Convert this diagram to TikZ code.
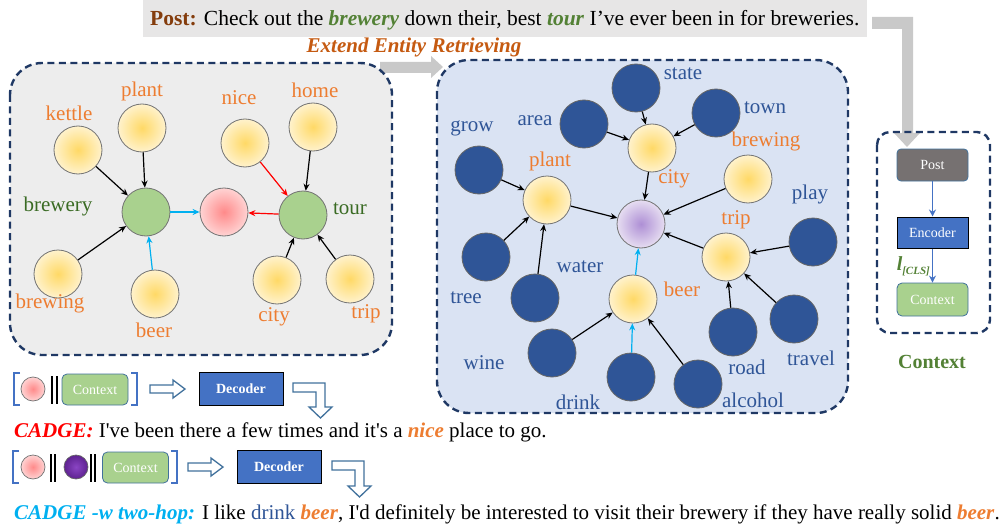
\documentclass[tikz,border=0pt]{standalone}
\usepackage{fontspec}
\setmainfont{Liberation Serif}[Ligatures=TeXOff]
\usetikzlibrary{arrows.meta}
\definecolor{navy}{HTML}{1F3864}
\definecolor{lgray}{HTML}{EDEDED}
\definecolor{lblue}{HTML}{DAE3F3}
\definecolor{arrgray}{HTML}{C9C9C9}
\definecolor{orng}{HTML}{ED7D31}
\definecolor{dorng}{HTML}{C55A11}
\definecolor{dblue}{HTML}{2F5597}
\definecolor{mblue}{HTML}{4472C4}
\definecolor{hblue}{HTML}{41719C}
\definecolor{dgreen}{HTML}{3A6B24}
\definecolor{pgreen}{HTML}{538135}
\definecolor{lgreen}{HTML}{A9D18E}
\definecolor{brown}{HTML}{843C0C}
\definecolor{cyanc}{HTML}{00B0F0}
\definecolor{redc}{HTML}{FF0000}
\definecolor{yin}{HTML}{FFD966}
\definecolor{yout}{HTML}{FFF2CC}
\definecolor{pin}{HTML}{FF8A8A}
\definecolor{pout}{HTML}{FFD3D3}
\definecolor{uin}{HTML}{AE8FD5}
\definecolor{uout}{HTML}{E6DDF1}
\definecolor{vin}{HTML}{8A45C4}
\definecolor{vout}{HTML}{5E2290}
\definecolor{postgray}{HTML}{767171}
\definecolor{postbox}{HTML}{E7E6E6}
\begin{document}
\begin{tikzpicture}[x=1pt,y=-1pt,
  ball/.style={circle,minimum size=48pt,inner sep=0pt,draw=black!55,line width=0.8pt},
  ynode/.style={ball,inner color=yin,outer color=yout},
  gnode/.style={ball,fill=lgreen},
  pnode/.style={ball,inner color=pin,outer color=pout},
  unode/.style={ball,inner color=uin,outer color=uout},
  dnode/.style={ball,fill=dblue,draw=black!60},
  lab/.style={font=\fontsize{21}{24}\selectfont,inner sep=0pt},
  olab/.style={lab,text=orng},
  blab/.style={lab,text=dblue},
  glab/.style={lab,text=dgreen},
  edge/.style={line width=1.2pt,-{Stealth[length=7pt,width=6pt]}},
  dashbox/.style={draw=navy,line width=2.4pt,dash pattern=on 7pt off 4.5pt},
  hollow/.style={draw=hblue,line width=1.3pt,fill=white,line join=miter},
  smallball/.style={circle,minimum size=24pt,inner sep=0pt,draw=black!55,line width=0.7pt},
  boxtxt/.style={text=white,font=\fontsize{14}{16}\selectfont},
]
\useasboundingbox (0,0) rectangle (1006,524);

% Post sentence
\fill[postbox] (143,0) rectangle (867,37);
\node[anchor=base west,inner sep=0pt,font=\fontsize{21.5}{24}\selectfont] (post) at (150,26)
 {\textbf{\textcolor{brown}{Post:}} Check out the \textcolor{pgreen}{\textbf{\textit{brewery}}} down their, best \textcolor{pgreen}{\textbf{\textit{tour}}} I’ve ever been in for breweries.};

% gray arrow from post to context box
\fill[arrgray] (872,17) -- (913,17) -- (913,133) -- (920,133) -- (907,147) -- (894,133) -- (902,133) -- (902,29) -- (872,29) -- cycle;

\node[anchor=base,inner sep=0pt,font=\fontsize{21}{24}\selectfont\bfseries\itshape,text=dorng] (ext) at (414,53) {Extend Entity Retrieving};

% boxes
\fill[lgray,rounded corners=32pt] (10,63) rectangle (392,355);
\fill[lblue,rounded corners=32pt] (437,60) rectangle (848,413);
\fill[arrgray] (380,62) -- (431,62) -- (431,56) -- (443,67) -- (431,78) -- (431,73) -- (380,73) -- cycle;
\draw[dashbox,rounded corners=32pt] (10,63) rectangle (392,355);
\draw[dashbox,rounded corners=32pt] (437,60) rectangle (848,413);

% ---------- left graph ----------
\node[ynode] (kettle) at (78,150) {};
\node[ynode] (plant) at (142,128) {};
\node[ynode] (nice) at (245,143) {};
\node[ynode] (home) at (313,127) {};
\node[gnode] (brewery) at (146,212) {};
\node[pnode] (pink) at (224,212) {};
\node[gnode] (tour) at (303,215) {};
\node[ynode] (brewing) at (58,274) {};
\node[ynode] (beer) at (155,294) {};
\node[ynode] (city) at (277,280) {};
\node[ynode] (trip) at (350,279) {};

\node[olab] (Lkettle) at (69,113) {kettle};
\node[olab] (Lplant) at (142,91) {plant};
\node[olab] (Lnice) at (239,98) {nice};
\node[olab] (Lhome) at (315,90) {home};
\node[glab] (Lbrewery) at (58,206) {brewery};
\node[glab] (Ltour) at (350,209) {tour};
\node[olab] (Lbrewing) at (50,303) {brewing};
\node[olab] (Lbeer) at (154,330) {beer};
\node[olab] (Lcity) at (274,317) {city};
\node[olab] (Ltrip) at (366,314) {trip};

\draw[edge] (kettle) -- (brewery);
\draw[edge] (plant) -- (brewery);
\draw[edge] (brewing) -- (brewery);
\draw[edge,cyanc] (beer) -- (brewery);
\draw[edge,cyanc] (brewery) -- (pink);
\draw[edge,redc] (nice) -- (tour);
\draw[edge] (home) -- (tour);
\draw[edge,redc] (tour) -- (pink);
\draw[edge] (city) -- (tour);
\draw[edge] (trip) -- (tour);

% ---------- right graph ----------
\node[dnode] (state) at (636,88) {};
\node[dnode] (area) at (584,124) {};
\node[dnode] (town) at (716,113) {};
\node[ynode] (cityR) at (652,148) {};
\node[ynode] (brewingR) at (748,179) {};
\node[dnode] (grow) at (479,170) {};
\node[ynode] (plantR) at (547,200) {};
\node[unode] (purple) at (641,224) {};
\node[ynode] (tripR) at (726,257) {};
\node[dnode] (play) at (813,242) {};
\node[dnode] (tree) at (486,257) {};
\node[dnode] (water) at (535,298) {};
\node[ynode] (beerR) at (633,299) {};
\node[dnode] (road) at (733,332) {};
\node[dnode] (travel) at (794,319) {};
\node[dnode] (wine) at (552,353) {};
\node[dnode] (drink) at (631,377) {};
\node[dnode] (alcohol) at (698,384) {};

\node[blab] (Lstate) at (683,74) {state};
\node[blab] (Larea) at (535,121) {area};
\node[blab] (Ltown) at (765,108) {town};
\node[olab] (LbrewingR) at (766,141) {brewing};
\node[olab] (LplantR) at (550,161) {plant};
\node[olab] (LcityR) at (674,179) {city};
\node[blab] (Lgrow) at (472,128) {grow};
\node[blab] (Lplay) at (810,194) {play};
\node[olab] (LtripR) at (736,220) {trip};
\node[blab] (Lwater) at (580,267) {water};
\node[blab] (Ltree) at (466,298) {tree};
\node[olab] (LbeerR) at (682,289) {beer};
\node[blab] (Lwine) at (484,363) {wine};
\node[blab] (Lroad) at (747,367) {road};
\node[blab] (Ltravel) at (811,358) {travel};
\node[blab] (Ldrink) at (578,402) {drink};
\node[blab] (Lalcohol) at (753,400) {alcohol};

\draw[edge] (state) -- (cityR);
\draw[edge] (area) -- (cityR);
\draw[edge] (town) -- (cityR);
\draw[edge] (cityR) -- (purple);
\draw[edge] (brewingR) -- (purple);
\draw[edge] (plantR) -- (purple);
\draw[edge] (grow) -- (plantR);
\draw[edge] (tree) -- (plantR);
\draw[edge] (water) -- (plantR);
\draw[edge] (tripR) -- (purple);
\draw[edge] (play) -- (tripR);
\draw[edge] (road) -- (tripR);
\draw[edge] (travel) -- (tripR);
\draw[edge,cyanc] (beerR) -- (purple);
\draw[edge,cyanc] (drink) -- (beerR);
\draw[edge] (wine) -- (beerR);
\draw[edge] (alcohol) -- (beerR);

% ---------- context box ----------
\draw[dashbox,rounded corners=13pt] (877,132) rectangle (990,333);
\node[draw=hblue,fill=postgray,rounded corners=4pt,minimum width=71pt,minimum height=32pt,boxtxt,line width=0.8pt] (cpost) at (932.5,165) {Post};
\node[draw=black,fill=mblue,minimum width=71pt,minimum height=31pt,boxtxt,line width=1pt] (cenc) at (932.5,232.5) {Encoder};
\node[draw=hblue,fill=lgreen,rounded corners=5pt,minimum width=71pt,minimum height=33pt,boxtxt,line width=0.8pt] (cctx) at (932.5,299.5) {Context};
\draw[line width=1.5pt,mblue,-{Stealth[length=7pt,width=7pt]}] (cpost) -- (cenc);
\draw[line width=1.5pt,mblue,-{Stealth[length=7pt,width=7pt]}] (cenc) -- (cctx);
\node[anchor=east,inner sep=0pt,text=pgreen,font=\fontsize{20}{22}\selectfont\bfseries\itshape] (lcls) at (930,266)
 {l\raisebox{-4pt}{\fontsize{11}{12}\selectfont [CLS]}};
\node[text=pgreen,font=\fontsize{20}{22}\selectfont\bfseries,inner sep=0pt] (ctxlab) at (932,362) {Context};

% ---------- row 1 ----------
\draw[mblue,line width=1.3pt] (20,373) -- (14,373) -- (14,405) -- (20,405);
\node[smallball,inner color=pin,outer color=pout] (r1p) at (33,389) {};
\draw[line width=1.8pt] (52,376) -- (52,404) (57,376) -- (57,404);
\node[draw=hblue,fill=lgreen,rounded corners=5pt,minimum width=66pt,minimum height=31pt,boxtxt,line width=0.8pt] (r1ctx) at (95,389.5) {Context};
\draw[mblue,line width=1.3pt] (131,373) -- (137,373) -- (137,405) -- (131,405);
\draw[hollow] (150,385) -- (173,385) -- (173,380) -- (185,389) -- (173,398) -- (173,393) -- (150,393) -- cycle;
\node[draw=black,fill=mblue,minimum width=84pt,minimum height=33pt,text=white,font=\fontsize{14}{16}\selectfont\bfseries,line width=1pt] (r1dec) at (241,388.5) {Decoder};
\draw[hollow] (293,383) -- (325,383) -- (325,407) -- (332,407) -- (320.5,418) -- (309,407) -- (316,407) -- (316,392) -- (293,392) -- cycle;
\node[anchor=base west,inner sep=0pt,font=\fontsize{21}{24}\selectfont] (line1) at (14,437)
 {\textcolor{redc}{\textbf{\textit{CADGE:}}} I've been there a few times and it's a \textcolor{orng}{\textbf{\textit{nice}}} place to go.};

% ---------- row 2 ----------
\draw[mblue,line width=1.3pt] (19,451) -- (13,451) -- (13,483) -- (19,483);
\node[smallball,inner color=pin,outer color=pout] (r2p) at (33,467) {};
\draw[line width=1.8pt] (51,454) -- (51,482) (55,454) -- (55,482);
\node[smallball,inner color=vin,outer color=vout,draw=black!60] (r2u) at (76,467) {};
\draw[line width=1.8pt] (91,454) -- (91,482) (95,454) -- (95,482);
\node[draw=hblue,fill=lgreen,rounded corners=5pt,minimum width=66pt,minimum height=31pt,boxtxt,line width=0.8pt] (r2ctx) at (135.5,467.5) {Context};
\draw[mblue,line width=1.3pt] (171,451) -- (177,451) -- (177,483) -- (171,483);
\begin{scope}[shift={(38,78)}]
\draw[hollow] (150,385) -- (173,385) -- (173,380) -- (185,389) -- (173,398) -- (173,393) -- (150,393) -- cycle;
\draw[hollow] (294,383) -- (326,383) -- (326,408) -- (333,408) -- (321.5,419) -- (310,408) -- (317,408) -- (317,392) -- (294,392) -- cycle;
\end{scope}
\node[draw=black,fill=mblue,minimum width=84pt,minimum height=33pt,text=white,font=\fontsize{14}{16}\selectfont\bfseries,line width=1pt] (r2dec) at (279,466.5) {Decoder};
\node[anchor=base west,inner sep=0pt,font=\fontsize{21}{24}\selectfont] (line2) at (14,519)
 {\textcolor{cyanc}{\textbf{\textit{CADGE -w two-hop:}}} I like \textcolor{dblue}{drink} \textcolor{orng}{\textbf{\textit{beer}}}, I'd definitely be interested to visit their brewery if they have really solid \textcolor{orng}{\textbf{\textit{beer}}}.};
\end{tikzpicture}
\end{document}
